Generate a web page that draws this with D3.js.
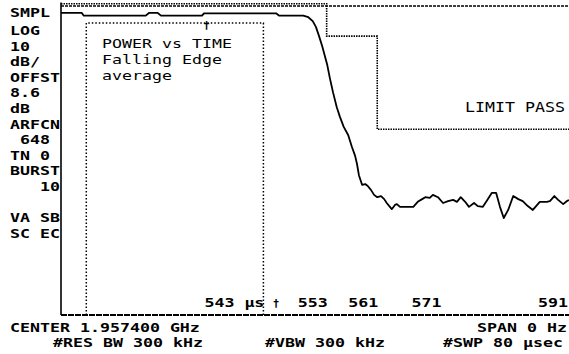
<!DOCTYPE html>
<html>
<head>
<meta charset="utf-8">
<script src="https://cdn.jsdelivr.net/npm/d3@7"></script>
<style>
  html, body { margin: 0; padding: 0; background: #fff; }
  svg { display: block; }
  text { font-family: "DejaVu Sans Mono", "Liberation Mono", monospace; fill: #000; white-space: pre; }
</style>
</head>
<body>
<script>
// Sweep time (µs) and measured level (dB) of the averaged falling edge
const traceTime = [511.0, 514.3, 514.6, 524.4, 524.9, 526.3, 526.8, 533.3, 533.6, 545.0, 545.5, 549.3,
  550.1, 550.8, 551.3, 551.8, 552.3, 553.1, 553.5, 554.0, 554.6, 555.1, 555.7, 556.4, 557.0, 557.5,
  557.8, 558.1, 558.6, 559.1, 559.5, 560.0, 560.5, 561.0, 561.6, 562.1, 562.5, 563.0, 563.3, 563.8,
  564.1, 564.6, 566.7, 567.4, 568.1, 568.6, 569.3, 569.8, 570.6, 571.4, 572.2, 573.0, 573.6, 574.2,
  574.9, 575.5, 576.3, 576.9, 577.7, 578.4, 579.1, 579.8, 580.4, 581.0, 581.7, 582.5, 583.3, 584.0,
  584.8, 585.6, 586.7, 587.8, 588.3, 589.0, 589.6, 590.4, 591.0, 591.3];
const traceLevel = [-1.8, -1.8, -2.5, -2.5, -1.8, -1.8, -2.5, -2.5, -1.9, -1.9, -2.5, -2.5,
  -2.9, -3.9, -5.4, -7.8, -10.4, -15.3, -18.6, -22.3, -26.2, -28.7, -31.3, -33.4, -36.5, -38.8,
  -40.9, -43.8, -46.3, -46.1, -46.6, -47.6, -48.9, -49.5, -49.2, -50.0, -51.0, -52.0, -52.6, -51.5,
  -51.3, -52.0, -52.0, -50.7, -50.0, -49.5, -49.7, -48.9, -49.5, -51.0, -50.5, -50.2, -50.7, -49.5,
  -50.7, -52.0, -51.0, -51.8, -52.0, -50.2, -48.4, -48.4, -52.0, -54.9, -52.8, -49.2, -50.0, -50.5,
  -51.8, -52.8, -50.7, -50.7, -50.5, -49.2, -50.2, -51.3, -50.5, -50.2];

// Falling-edge limit mask
const limitTime = [511, 553, 553, 561, 561, 591.5];
const limitLevel = [0.6, 0.6, -7.8, -7.8, -31.9, -31.9];

// Measurement gate (µs) and gate markers
const gateTime = [515, 543];
const gateTop = -4.4;
const markerTop = 534;
const markerBottom = 545;

// Time axis labels
const tickTimes = [543, 553, 561, 571, 591];
const tickLabels = ["543 µs", "553", "561", "571", "591"];

// Instrument state annotations
const sideLabels = ["SMPL", "LOG", "10", "dB/", "OFFST", "8.6", "dB", "ARFCN", " 648", "TN 0", "BURST", "   10", "", "VA SB", "SC EC"];
const titleLines = ["POWER vs TIME", "Falling Edge", "average"];
const statusText = "LIMIT PASS";
const footerTop = ["CENTER 1.957400 GHz", "SPAN 0 Hz"];
const footerBottom = ["#RES BW 300 kHz", "#VBW 300 kHz", "#SWP 80 µsec"];

const W = 569, H = 354;
const FS = 13.5, ADV = 10;   // glyph size and character advance

const svg = d3.select("body").append("svg").attr("width", W).attr("height", H);

const x = d3.scaleLinear().domain([511, 591]).range([61, 567]);
const y = d3.scaleLinear().domain([0, -80]).range([6, 315]);

// Monospace text stretched so every character advances ADV pixels
function label(txt, px, py, bold, size) {
  const s = size || FS;
  const sx = ADV / (s * 0.602);
  svg.append("text")
    .attr("transform", `translate(${px},${py}) scale(${sx},1)`)
    .attr("font-size", s)
    .attr("font-weight", bold ? "bold" : "normal")
    .text(txt);
}

// Frame: top border, left axis, bottom axis
svg.append("line").attr("x1", x(511)).attr("x2", W).attr("y1", y(0)).attr("y2", y(0))
  .attr("stroke", "#000").attr("stroke-width", 1.3).attr("stroke-dasharray", "3,1");
svg.append("line").attr("x1", x(511)).attr("x2", x(511)).attr("y1", y(0.9)).attr("y2", y(-80))
  .attr("stroke", "#000").attr("stroke-width", 1.6);
svg.append("line").attr("x1", x(511)).attr("x2", W).attr("y1", y(-80)).attr("y2", y(-80))
  .attr("stroke", "#000").attr("stroke-width", 2).attr("stroke-dasharray", "6,1");

// Limit mask
const limitLine = d3.line().x(d => x(d[0])).y(d => y(d[1]));
svg.append("path")
  .attr("d", limitLine(d3.zip(limitTime, limitLevel)))
  .attr("fill", "none").attr("stroke", "#000").attr("stroke-width", 1.6)
  .attr("stroke-dasharray", "1.5,1");

// Gate box
svg.append("path")
  .attr("d", limitLine([[gateTime[0], -80], [gateTime[0], gateTop], [gateTime[1], gateTop], [gateTime[1], -80]]))
  .attr("fill", "none").attr("stroke", "#000").attr("stroke-width", 1.5)
  .attr("stroke-dasharray", "1.5,2");

// Measured trace
svg.append("path")
  .attr("d", d3.line().x(d => x(d[0])).y(d => y(d[1]))(d3.zip(traceTime, traceLevel)))
  .attr("fill", "none").attr("stroke", "#000").attr("stroke-width", 1.8)
  .attr("stroke-linejoin", "round");

// Gate markers
svg.append("text").attr("x", x(markerTop)).attr("y", y(-5.9)).attr("text-anchor", "middle")
  .attr("font-size", 11).attr("font-weight", "bold").text("†");
svg.append("text").attr("x", x(markerBottom)).attr("y", y(-77.8)).attr("text-anchor", "middle")
  .attr("font-size", 11).attr("font-weight", "bold").text("†");

// Time labels, right edge on their time
tickTimes.forEach((t, i) => {
  const n = tickLabels[i].length;
  label(tickLabels[i], x(t) - n * ADV + 1, 307, true, 13);
});

// Left column of instrument settings
const rowY = [17, 35];
for (let i = 2; i < sideLabels.length; i++) rowY.push(35 + (i - 1) * 15.6);
sideLabels.forEach((s, i) => { if (s) label(s, 10, rowY[i], true, 13); });

// Title block
titleLines.forEach((s, i) => label(s, 102, 48 + i * 16, false, 13));

// Limit status
label(statusText, 465, 112, false);

// Footer
label(footerTop[0], 10, 332, true, 12.5);
label(footerTop[1], W - 2 - footerTop[1].length * ADV, 332, true, 12.5);
label(footerBottom[0], 53, 347, true, 12.5);
label(footerBottom[1], 265, 347, true, 12.5);
label(footerBottom[2], 443, 347, true, 12.5);
</script>
</body>
</html>
